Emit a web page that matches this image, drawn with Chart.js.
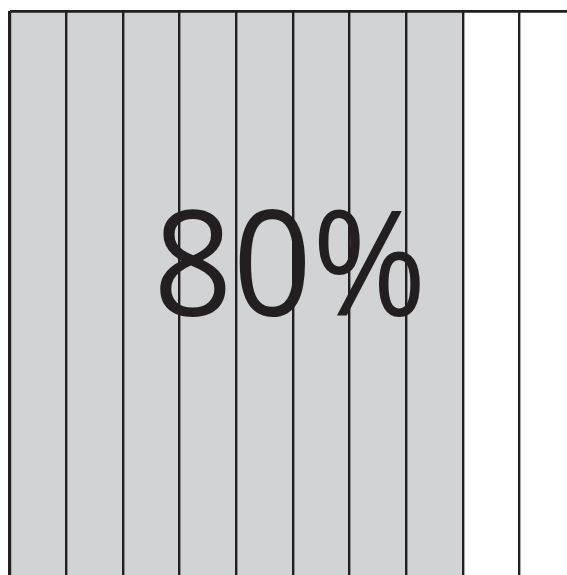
<!DOCTYPE html>
<html>
<head>
<meta charset="utf-8">
<script src="https://cdn.jsdelivr.net/npm/chart.js@4/dist/chart.umd.min.js"></script>
<style>
  html, body { margin: 0; padding: 0; background: #fff; overflow: hidden; }
  #wrap { position: relative; width: 567px; height: 575px; overflow: hidden; }
  #box { position: absolute; left: 0; top: 0; width: 600px; height: 620px; }
  #label {
    position: absolute; left: 0; width: 580px; top: 160px;
    text-align: center; font-family: "Open Sans", sans-serif;
    font-size: 146px; line-height: 200px; color: #231f20;
    transform: scaleX(0.95);
  }
</style>
</head>
<body>
<div id="wrap">
  <div id="box"><canvas id="strips"></canvas></div>
  <div id="label"></div>
</div>
<script>
// ten strips, eight of them shaded
var strips = ['1', '2', '3', '4', '5', '6', '7', '8', '9', '10'];
var shaded = [1, 1, 1, 1, 1, 1, 1, 1, 0, 0];
var percent = 80;

document.getElementById('label').textContent = percent + '%';

var ink = '#231f20';
var canvas = document.getElementById('strips');
new Chart(canvas, {
  type: 'bar',
  data: {
    labels: strips,
    datasets: [{
      data: shaded,
      backgroundColor: '#d1d3d4',
      borderWidth: 0,
      barPercentage: 1,
      categoryPercentage: 1
    }]
  },
  options: {
    responsive: true,
    maintainAspectRatio: false,
    animation: false,
    events: [],
    layout: { padding: { left: 9.5, top: 11, right: 23.8, bottom: 10 } },
    plugins: { legend: { display: false }, tooltip: { enabled: false } },
    scales: {
      x: {
        offset: true,
        ticks: { display: false },
        border: { display: false },
        grid: {
          z: 1,
          offset: true,
          drawTicks: false,
          color: ink,
          lineWidth: function (ctx) {
            return (ctx.index === 0 || ctx.index === strips.length) ? 3.2 : 2.4;
          }
        }
      },
      y: {
        min: 0,
        max: 1,
        ticks: { display: false, stepSize: 1 },
        border: { display: false },
        grid: { z: 1, drawTicks: false, color: ink, lineWidth: 2.8 }
      }
    }
  }
});
</script>
</body>
</html>
